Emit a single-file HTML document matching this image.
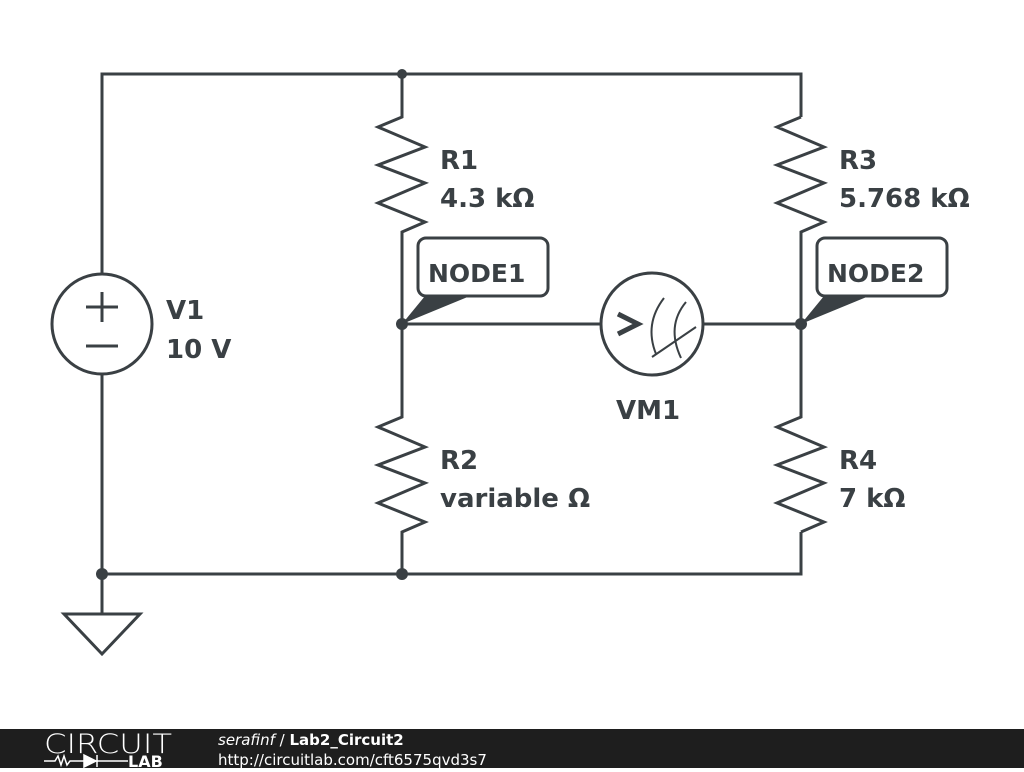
<!DOCTYPE html>
<html><head><meta charset="utf-8"><style>
body{margin:0;width:1024px;height:768px;background:#fff;overflow:hidden;font-family:"DejaVu Sans",sans-serif}
</style></head><body>
<svg width="1024" height="768" viewBox="0 0 1024 768" xmlns="http://www.w3.org/2000/svg">
<g stroke="#3a4044" stroke-width="3" fill="none" stroke-linejoin="miter">
<path d="M102 274V74H801V117"/>
<path d="M102 374V574H801V532"/>
<path d="M402 74V117L378 127L425 147L378 165L425 183L378 203L425 222L402 232V417L378 427L425 447L378 465L425 483L378 503L425 522L402 532V574"/>
<path d="M801 117L777 127L824 147L777 165L824 183L777 203L824 222L801 232V417L777 427L824 447L777 465L824 483L777 503L824 522L801 532"/>
<circle cx="102" cy="324" r="50"/>
<path d="M86 307H118M102 292V322M86 346H118"/>
<path d="M102 574V614M64 614H140L102 654Z"/>
<path d="M402 324H601M703 324H801"/>
<circle cx="652" cy="324" r="51"/>
<path d="M618 314L638 324L618 334" stroke-width="5"/>
<path d="M664 298Q644 324 656 354M686 302Q666 326 681 358" stroke-width="2"/>
<path d="M652 357L696 327" stroke-width="2"/>
<rect x="418" y="238" width="130" height="58" rx="8"/>
<rect x="817" y="238" width="130" height="58" rx="8"/>
</g>
<g fill="#3a4044">
<circle cx="402" cy="74" r="5"/><circle cx="402" cy="324" r="6"/><circle cx="801" cy="324" r="6"/>
<circle cx="102" cy="574" r="6"/><circle cx="402" cy="574" r="6"/>
<path d="M402 324L425 296H470Z"/><path d="M801 324L824 296H869Z"/>
</g>
<g fill="#3a4044" font-weight="bold" font-size="26">
<text x="440" y="169">R1</text><text x="440" y="207">4.3 kΩ</text>
<text x="440" y="469">R2</text><text x="440" y="507">variable Ω</text>
<text x="839" y="169">R3</text><text x="839" y="207">5.768 kΩ</text>
<text x="839" y="469">R4</text><text x="839" y="507">7 kΩ</text>
<text x="166" y="319">V1</text><text x="166" y="358">10 V</text>
<text x="616" y="419">VM1</text>
<text x="428" y="282" font-size="25">NODE1</text><text x="827" y="282" font-size="25">NODE2</text>
</g>
<rect x="0" y="729" width="1024" height="39" fill="#1e1e1e"/>
<text x="44" y="753" fill="#fff" font-size="27" font-family="DejaVu Sans" font-weight="200" textLength="128" lengthAdjust="spacingAndGlyphs">CIRCUIT</text>
<path d="M44 761H55L58 756L61 765L64 756L67 765L70 761H98" stroke="#fff" stroke-width="1.5" fill="none"/>
<path d="M84 755L96 761L84 767Z M97 755V767M97 761H128" fill="#fff" stroke="#fff" stroke-width="1.5"/>
<text x="128" y="767" fill="#fff" font-size="16" font-weight="bold">LAB</text>
<text x="218" y="745" fill="#fff" font-size="15"><tspan font-style="italic">serafinf</tspan> / <tspan font-weight="bold">Lab2_Circuit2</tspan></text>
<text x="218" y="765" fill="#fff" font-size="15">http://circuitlab.com/cft6575qvd3s7</text>
</svg>
</body></html>
